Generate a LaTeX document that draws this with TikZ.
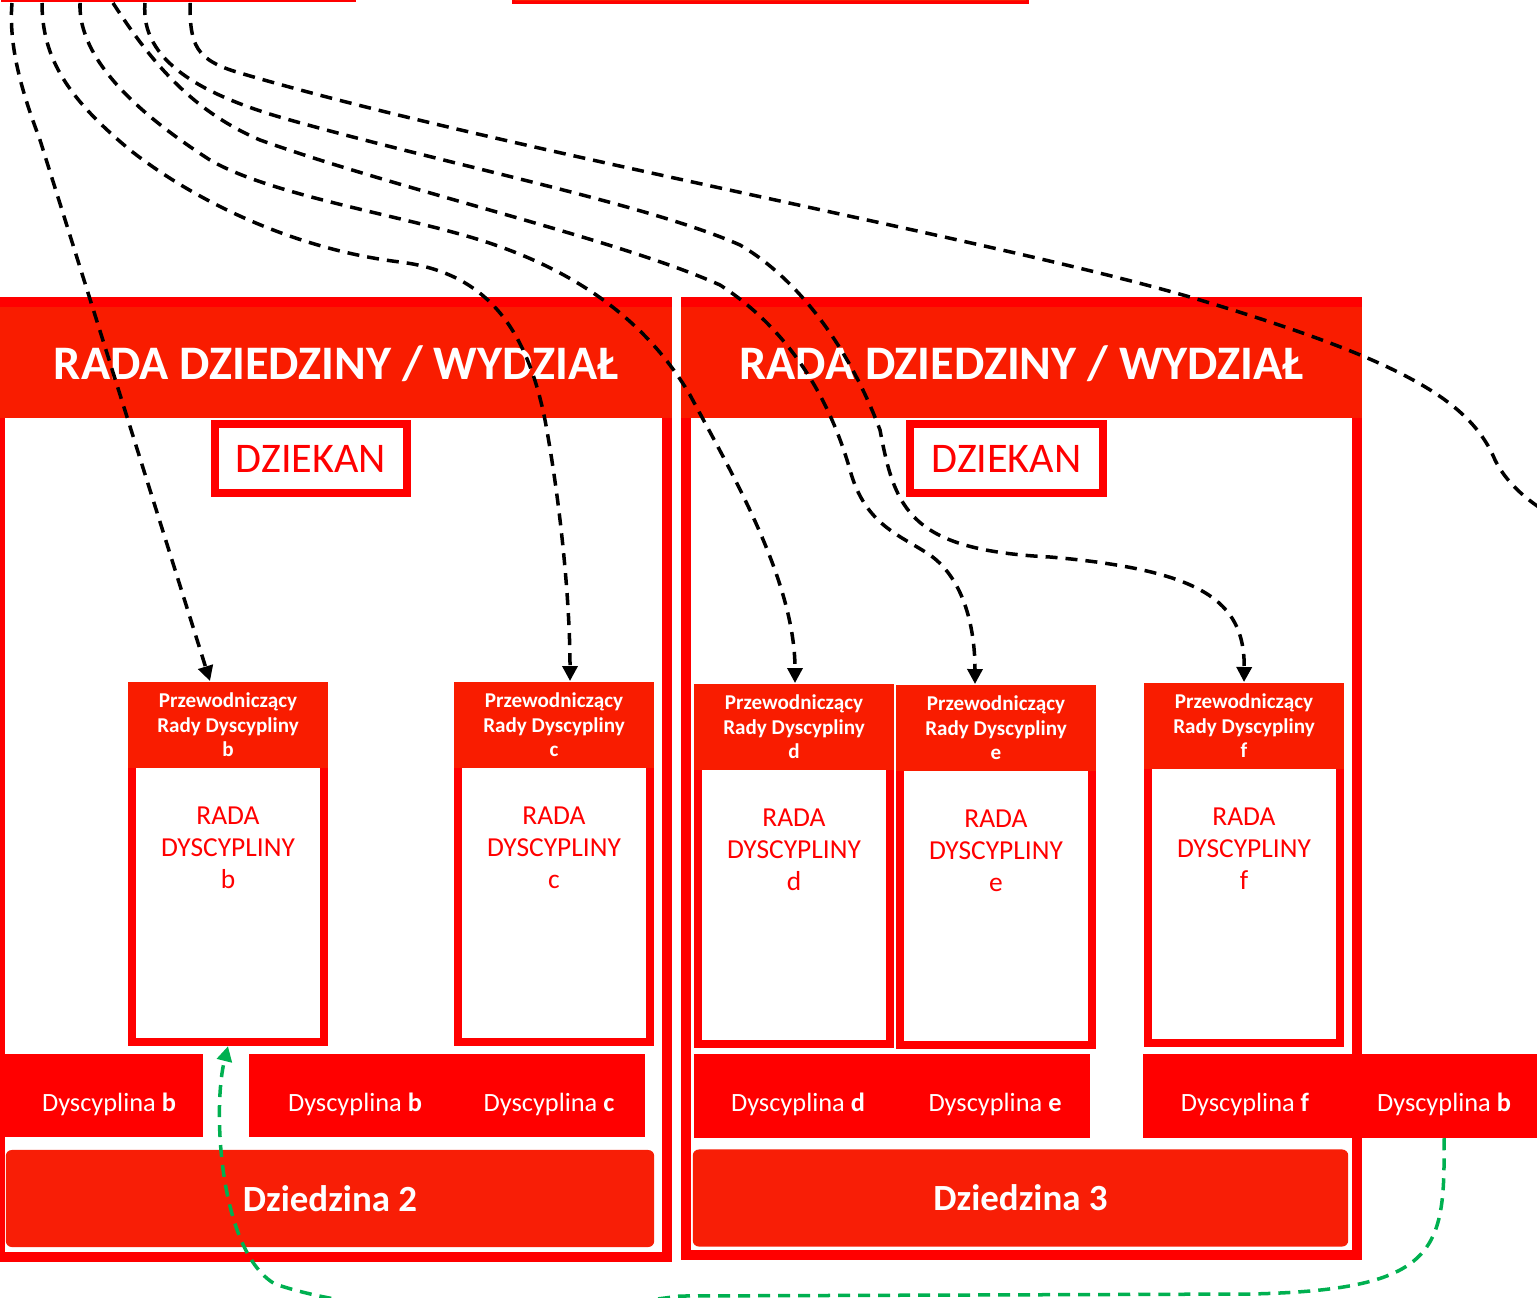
\documentclass[tikz,border=0pt]{standalone}
\usepackage{fontspec}
\setmainfont{Carlito}
\usetikzlibrary{arrows.meta,calc}
\definecolor{czerwony}{HTML}{FF0000}
\definecolor{naglowek}{HTML}{F91C00}
\definecolor{dziedz}{HTML}{F81E06}
\definecolor{zielony}{HTML}{00B050}

\begin{document}
\begin{tikzpicture}[
x=0.01cm, y=-0.01cm,
wydzial/.style={draw=czerwony, line width=0.1cm, inner sep=0pt},
glowka/.style={
  fill=naglowek, text=white, inner sep=0pt,
  minimum height=1.11cm, text depth=0pt,
  font=\fontsize{13.7pt}{16pt}\selectfont\bfseries
  },
dziekan/.style={
  draw=czerwony, line width=0.08cm, fill=white, text=czerwony,
  minimum width=1.92cm, minimum height=0.69cm, inner sep=0pt,
  font=\fontsize{12pt}{14pt}\selectfont
  },
ramka/.style={
  draw=czerwony, line width=0.08cm, fill=white,
  minimum width=1.91cm, minimum height=3.53cm, inner sep=0pt
  },
przew/.style={
  fill=naglowek, text=white, align=center, inner sep=0pt,
  minimum width=1.99cm, minimum height=0.86cm,
  font=\fontsize{6pt}{7pt}\selectfont\bfseries
  },
rada/.style={text=czerwony, align=center, inner sep=0pt, font=\fontsize{7.8pt}{9.1pt}\selectfont},
pas/.style={fill=czerwony, inner sep=0pt, minimum height=0.83cm},
dys/.style={text=white, anchor=base, inner sep=0pt, font=\fontsize{7.5pt}{9pt}\selectfont},
dziedzina/.style={
  fill=dziedz, rounded corners=0.06cm, text=white, inner sep=0pt,
  minimum height=0.97cm, font=\fontsize{10.5pt}{12pt}\selectfont\bfseries
  },
polaczenie/.style={dash pattern=on 0.12cm off 0.08cm, line width=0.035cm, -{Triangle[length=0.15cm,width=0.15cm]}},
zwrot/.style={polaczenie, draw=zielony}
]
\useasboundingbox (0,0) rectangle (1537,1297);

% boxes cut off at the top
\node[fill=czerwony, inner sep=0pt, minimum width=3.55cm, minimum height=1cm, anchor=south west] (uczelnia) at (0,3) {};
\node[draw=czerwony, fill=naglowek, line width=0.03cm, inner sep=0pt, minimum width=5.14cm, minimum height=1cm, anchor=south west] (senat) at (511.5,4.5) {};
\foreach \i/\dx in {1/12,2/42,3/80,4/113,5/145,6/190}
  \coordinate (s\i) at ($(uczelnia.south west)+(\dx,0)$);
\coordinate (dalej) at (1580,530);

% two faculties
\node[wydzial, minimum width=6.67cm, minimum height=9.55cm] (wydz2) at (333.5,779.5) {};
\node[wydzial, minimum width=6.71cm, minimum height=9.53cm] (wydz3) at (1021.5,778.5) {};
\node[glowka, minimum width=6.72cm, anchor=north] (rdz2) at (336,306) {RADA DZIEDZINY / WYDZIAŁ};
\node[glowka, minimum width=6.81cm, anchor=north] (rdz3) at (1021.5,306) {RADA DZIEDZINY / WYDZIAŁ};
\node[dziekan] (dz2) at (311,458.5) {DZIEKAN};
\node[dziekan] (dz3) at (1006.5,458.5) {DZIEKAN};

% discipline councils
\foreach \d/\x/\y in {b/228/681, c/554/681, d/794/683, e/996/684, f/1244/682} {
  \node[ramka, anchor=north] (r\d) at (\x,\y+4) {};
  \node[przew, anchor=north] (p\d) at (\x,\y) {Przewodniczący\\Rady Dyscypliny\\\d};
  \node[rada] (t\d) at (\x,\y+167) {RADA\\DYSCYPLINY\\\d};
}

% disciplines
\node[pas, minimum width=2.23cm] (pas1) at (91.5,1095.5) {};
\node[pas, minimum width=3.96cm] (pas2) at (447,1095.5) {};
\node[pas, minimum width=3.96cm] (pas3) at (892,1096) {};
\node[pas, minimum width=4.2cm] (pas4) at (1353,1096) {};
\node[dys] (dysb1) at (109,1111) {Dyscyplina \textbf{b}};
\node[dys] (dysb2) at (355,1111) {Dyscyplina \textbf{b}};
\node[dys] (dysc) at (549,1111) {Dyscyplina \textbf{c}};
\node[dys] (dysd) at (798,1111) {Dyscyplina \textbf{d}};
\node[dys] (dyse) at (995,1111) {Dyscyplina \textbf{e}};
\node[dys] (dysf) at (1245,1111) {Dyscyplina \textbf{f}};
\node[dys] (dysb3) at (1444,1111) {Dyscyplina \textbf{b}};

\node[dziedzina, minimum width=6.48cm] (dzd2) at (330,1198.5) {Dziedzina 2};
\node[dziedzina, minimum width=6.55cm] (dzd3) at (1020.5,1198) {Dziedzina 3};

% links from above
\draw[polaczenie] (s1) .. controls (8,50) and (25,100) .. (40,140) -- ([xshift=-0.18cm]pb.north);
\draw[polaczenie] (s2) .. controls (42,60) and (70,100) .. (130,150)
  .. controls (200,205) and (300,250) .. (400,262)
  .. controls (480,272) and (525,320) .. (545,420)
  .. controls (560,500) and (570,600) .. ([xshift=0.16cm]pc.north);
\draw[polaczenie] (s3) .. controls (78,60) and (140,115) .. (210,160)
  .. controls (270,195) and (400,215) .. (480,240)
  .. controls (560,265) and (640,310) .. (690,395)
  .. controls (730,470) and (795,580) .. ([xshift=0.01cm]pd.north);
\draw[polaczenie] (s4) .. controls (150,60) and (190,110) .. (260,140)
  .. controls (400,190) and (620,240) .. (720,285)
  .. controls (790,330) and (830,400) .. (850,470)
  .. controls (865,525) and (900,535) .. (930,555)
  .. controls (965,580) and (975,630) .. ([xshift=-0.21cm]pe.north);
\draw[polaczenie] (s5) .. controls (140,60) and (200,95) .. (290,120)
  .. controls (450,165) and (650,205) .. (740,245)
  .. controls (800,280) and (850,350) .. (880,430)
  .. controls (895,510) and (910,550) .. (1050,557)
  .. controls (1200,570) and (1245,600) .. (pf.north);
\draw[polaczenie] (s6) .. controls (190,45) and (195,60) .. (240,73)
  .. controls (500,150) and (1000,240) .. (1200,300)
  .. controls (1400,360) and (1470,400) .. (1495,460)
  .. controls (1510,490) and (1540,510) .. (dalej);

% link back to b
\draw[zwrot] (dysb3.south |- pas4.south) .. controls (1445,1250) and (1440,1290) .. (1250,1294)
  -- (680,1296)
  .. controls (520,1318) and (370,1316) .. (275,1284)
  .. controls (220,1252) and (212,1110) .. (rb.south);
\end{tikzpicture}
\end{document}
